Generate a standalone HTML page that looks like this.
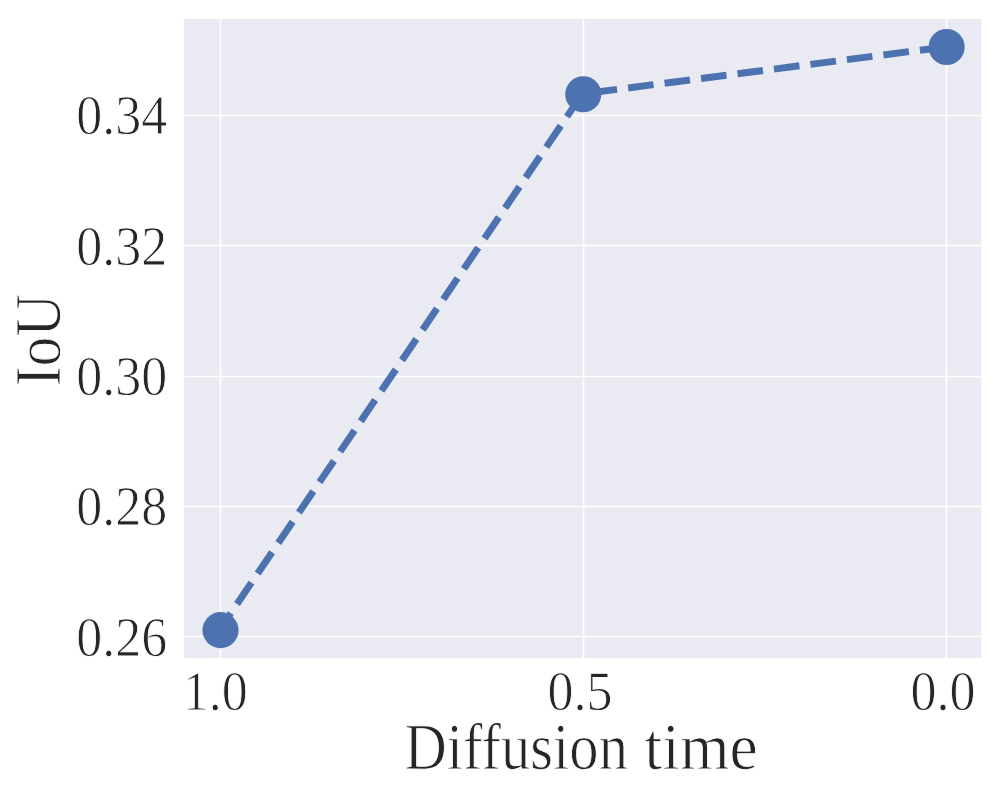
<!DOCTYPE html>
<html><head><meta charset="utf-8">
<style>
html,body{margin:0;padding:0;background:#fff;width:1000px;height:800px;overflow:hidden}
svg{display:block}
text{text-rendering:geometricPrecision;font-family:"Liberation Serif",serif;fill:#262626;stroke:#ffffff;stroke-width:0.9px;paint-order:normal}
</style></head>
<body>
<svg width="1000" height="800" viewBox="0 0 1000 800">
<rect x="0" y="0" width="1000" height="800" fill="#ffffff"/>
<rect x="184" y="18.8" width="797.2" height="639.2" fill="#EAEAF2"/>
<g stroke="#ffffff" stroke-width="1.6" fill="none">
<line x1="220.5" y1="19" x2="220.5" y2="658"/>
<line x1="583.5" y1="19" x2="583.5" y2="658"/>
<line x1="946.5" y1="19" x2="946.5" y2="658"/>
<line x1="184" y1="115.5" x2="981" y2="115.5"/>
<line x1="184" y1="245.5" x2="981" y2="245.5"/>
<line x1="184" y1="376.5" x2="981" y2="376.5"/>
<line x1="184" y1="506.5" x2="981" y2="506.5"/>
<line x1="184" y1="636.5" x2="981" y2="636.5"/>
</g>
<path d="M219.31,630.15 L582.37,93.85 L946.63,46.79" fill="none" stroke="#4C72B0" stroke-width="6.94" stroke-dasharray="25.68 11.1" stroke-dashoffset="5.12" stroke-linejoin="round"/>
<g fill="#4C72B0">
<circle cx="220.51" cy="630.15" r="18.05"/>
<circle cx="583.28" cy="94.28" r="18.05"/>
<circle cx="946.63" cy="47.0" r="18.05"/>
</g>
<g font-size="56.0">
<text transform="translate(167.2,134) scale(0.929,1)" text-anchor="end">0.34</text><text transform="translate(167.2,265) scale(0.929,1)" text-anchor="end">0.32</text><text transform="translate(167.2,395) scale(0.929,1)" text-anchor="end">0.30</text><text transform="translate(167.2,525) scale(0.929,1)" text-anchor="end">0.28</text><text transform="translate(167.2,656) scale(0.929,1)" text-anchor="end">0.26</text>
<text transform="translate(215.3,710) scale(0.929,1)" text-anchor="middle">1.0</text><text transform="translate(580.05,710) scale(0.929,1)" text-anchor="middle">0.5</text><text transform="translate(943.1,710) scale(0.929,1)" text-anchor="middle">0.0</text>
</g>
<text transform="translate(404.58,768.85) scale(0.887,1)" font-size="66">Diffusion</text>
<text transform="translate(644.54,768.85) scale(0.966,1)" font-size="66">time</text>
<text transform="translate(60.3,340) rotate(-90) scale(0.906,1)" font-size="65.6" text-anchor="middle">IoU</text>
</svg>
</body></html>
